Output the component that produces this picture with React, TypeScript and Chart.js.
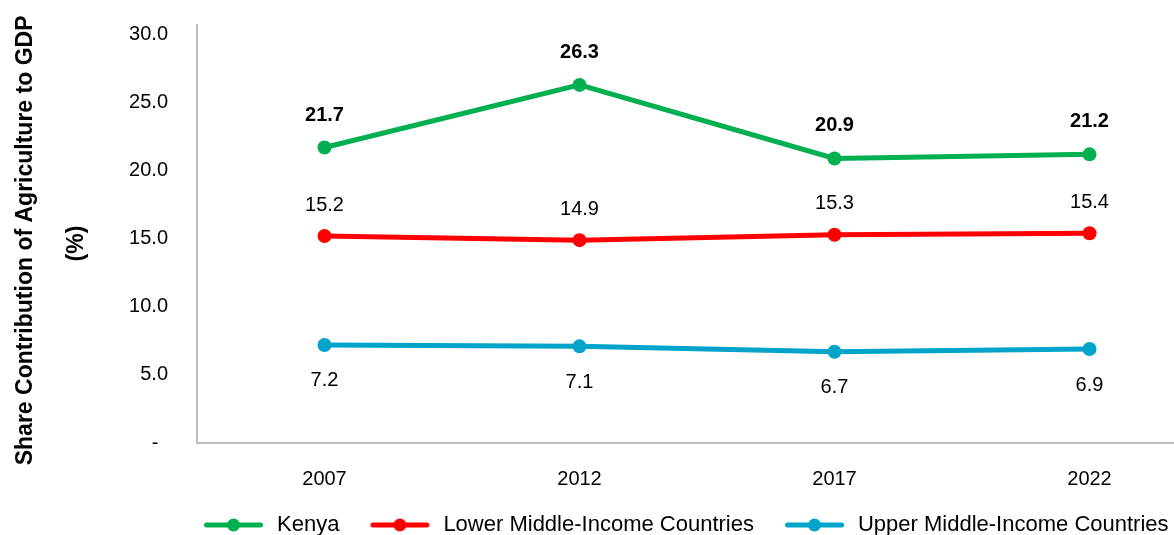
import React, { useEffect, useRef } from 'react';
import { Chart, registerables } from 'chart.js';

Chart.register(...registerables);

// ---- data ----
const years = ['2007', '2012', '2017', '2022'];
const kenya = [21.7, 26.3, 20.9, 21.2];
const lowerMiddle = [15.2, 14.9, 15.3, 15.4];
const upperMiddle = [7.2, 7.1, 6.7, 6.9];
const yTicks = [0, 5, 10, 15, 20, 25, 30];
const seriesNames = ['Kenya', 'Lower Middle-Income Countries', 'Upper Middle-Income Countries'];
const yTitle = ['Share Contribution of Agriculture to GDP', '(%)'];

// ---- styles ----
const seriesColors = ['#00b050', '#ff0000', '#00a3c9'];
const FONT = "'Liberation Sans', Arial, Helvetica, sans-serif";
const labelStyles = [
  { bold: true, dy: -32.5 },
  { bold: false, dy: -31 },
  { bold: false, dy: 36 },
];
const titlePad = ['  ', '   '];
const ICON_W = 93;

function legendIcon(color: string): HTMLCanvasElement {
  const c = document.createElement('canvas');
  c.width = ICON_W;
  c.height = 16;
  const ctx = c.getContext('2d')!;
  ctx.strokeStyle = color;
  ctx.lineWidth = 5;
  ctx.lineCap = 'round';
  ctx.beginPath();
  ctx.moveTo(33.5, 8);
  ctx.lineTo(87.5, 8);
  ctx.stroke();
  ctx.fillStyle = color;
  ctx.beginPath();
  ctx.arc(60.5, 8, 6.5, 0, Math.PI * 2);
  ctx.fill();
  return c;
}

const valueLabels = {
  id: 'valueLabels',
  afterDatasetsDraw(chart: any) {
    const ctx = chart.ctx;
    chart.data.datasets.forEach((ds: any, i: number) => {
      const meta = chart.getDatasetMeta(i);
      const st = labelStyles[i];
      ctx.save();
      ctx.font = `${st.bold ? 'bold ' : ''}20px ${FONT}`;
      ctx.fillStyle = '#000';
      ctx.textAlign = 'center';
      ctx.textBaseline = 'middle';
      meta.data.forEach((pt: any, j: number) => {
        ctx.fillText(Number(ds.data[j]).toFixed(1), pt.x, pt.y + st.dy);
      });
      ctx.restore();
    });
  },
};

const legendPlace = {
  id: 'legendPlace',
  afterLayout(chart: any) {
    const lg = chart.legend;
    if (!lg) return;
    const h = lg.height;
    lg.left = chart.chartArea.left + 8 - 32;
    lg.right = lg.left + 1400;
    lg.top = 514;
    lg.bottom = lg.top + h;
  },
};

export default function App() {
  const ref = useRef<HTMLCanvasElement>(null);

  useEffect(() => {
    if (!ref.current) return;
    Chart.defaults.font.family = FONT;
    const icons = seriesColors.map(legendIcon);
    const chart = new Chart(ref.current, {
      type: 'line',
      data: {
        labels: years,
        datasets: [kenya, lowerMiddle, upperMiddle].map((d, i) => ({
          label: seriesNames[i],
          data: d,
          borderColor: seriesColors[i],
          backgroundColor: seriesColors[i],
          pointBackgroundColor: seriesColors[i],
          pointBorderWidth: 0,
          pointRadius: 7,
          pointHoverRadius: 7,
          borderWidth: 5,
          tension: 0,
          fill: false,
        })),
      },
      options: {
        animation: false,
        responsive: true,
        maintainAspectRatio: false,
        layout: { padding: { left: 0, top: 25, right: 13, bottom: 0 } },
        plugins: {
          tooltip: { enabled: false },
          legend: {
            position: 'bottom',
            align: 'start',
            labels: {
              usePointStyle: true,
              pointStyleWidth: ICON_W,
              padding: 0,
              color: '#000',
              font: { size: 22 },
              generateLabels(chart: any) {
                const items = Chart.defaults.plugins.legend.labels.generateLabels(chart);
                items.forEach((it: any, i: number) => {
                  it.pointStyle = icons[i];
                });
                return items;
              },
            },
          },
        },
        scales: {
          x: {
            type: 'category',
            offset: true,
            grid: { display: false, drawTicks: false },
            border: { display: true, color: '#bfbfbf', width: 2 },
            ticks: { color: '#000', font: { size: 20 }, padding: 24 },
            afterFit(scale: any) {
              scale.height = 60;
              scale.paddingLeft = 0;
              scale.paddingRight = 0;
            },
          },
          y: {
            type: 'linear',
            min: 0,
            max: 30.7,
            grid: { display: false, drawTicks: false },
            border: { display: true, color: '#bfbfbf', width: 2 },
            afterBuildTicks(scale: any) {
              scale.ticks = yTicks.map((v) => ({ value: v }));
            },
            ticks: {
              color: '#000',
              font: { size: 20 },
              padding: 29,
              callback: (v: any) => (Number(v) === 0 ? '- \u2009' : Number(v).toFixed(1)),
            },
            title: {
              display: true,
              text: yTitle.map((t, i) => t + titlePad[i]),
              color: '#000',
              font: { size: 23, weight: 'bold', lineHeight: 51 / 23 },
              padding: { top: 0, bottom: 0 },
            },
            afterFit(scale: any) {
              scale.width = 197;
              scale.paddingTop = 0;
              scale.paddingBottom = 0;
            },
          },
        },
      },
      plugins: [valueLabels, legendPlace],
    });
    return () => chart.destroy();
  }, []);

  return (
    <div style={{ position: 'fixed', left: 0, top: 0, width: 1174, height: 535, overflow: 'hidden', background: '#fff' }}>
      <div style={{ position: 'relative', width: 1230, height: 535 }}>
        <canvas ref={ref} />
      </div>
    </div>
  );
}
